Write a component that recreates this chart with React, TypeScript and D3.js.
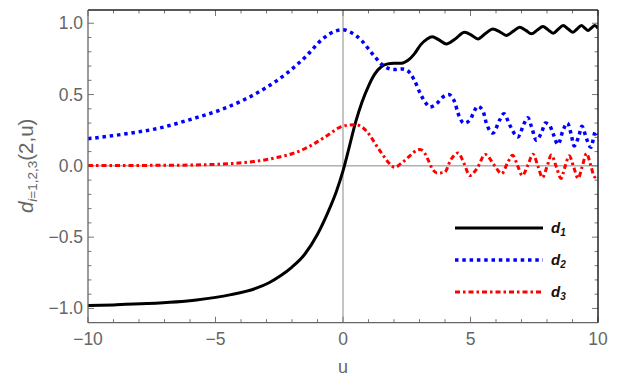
import React from 'react'
import * as d3 from 'd3'

// values: [u, d(2,u)]
const d1Points: [number, number][] = [
  [-10, -0.98], [-9, -0.975], [-7.7, -0.966], [-5.75, -0.94], [-4.44, -0.905], [-3.4, -0.858],
  [-2.9, -0.82], [-2.48, -0.775], [-2.0, -0.71], [-1.5, -0.62], [-1.0, -0.48], [-0.6, -0.33],
  [-0.26, -0.18], [0, -0.035],
  [0.2, 0.1], [0.5, 0.31], [0.75, 0.45], [1.0, 0.56], [1.25, 0.645], [1.5, 0.695], [1.75, 0.715],
  [2.0, 0.72], [2.3, 0.72], [2.55, 0.74], [2.8, 0.785], [3.05, 0.85], [3.3, 0.89], [3.5, 0.905],
  [3.75, 0.885], [4.05, 0.855], [4.4, 0.89], [4.77, 0.937], [5.05, 0.915], [5.29, 0.89], [5.6, 0.93],
  [5.88, 0.96], [6.15, 0.94], [6.41, 0.915], [6.68, 0.945], [6.93, 0.972], [7.17, 0.95], [7.39, 0.926],
  [7.62, 0.952], [7.84, 0.977], [8.04, 0.955], [8.24, 0.93], [8.44, 0.958], [8.63, 0.984], [8.83, 0.96],
  [9.02, 0.937], [9.18, 0.96], [9.35, 0.984], [9.48, 0.967], [9.61, 0.95], [9.74, 0.967], [9.87, 0.984],
  [10, 0.965],
]

const d2Points: [number, number][] = [
  [-10, 0.19], [-8.5, 0.225], [-7.2, 0.265], [-5.9, 0.33], [-4.84, 0.39], [-3.92, 0.46], [-3.0, 0.55],
  [-2.2, 0.65], [-1.44, 0.77], [-0.8, 0.89], [-0.3, 0.945], [0, 0.955], [0.26, 0.94], [0.5, 0.915],
  [0.75, 0.875], [1.0, 0.82], [1.25, 0.765], [1.5, 0.715], [1.75, 0.685], [2.0, 0.675], [2.3, 0.68],
  [2.55, 0.665], [2.8, 0.6], [3.05, 0.5], [3.25, 0.44], [3.4, 0.413], [3.67, 0.436], [3.92, 0.483],
  [4.14, 0.5], [4.38, 0.448], [4.51, 0.37], [4.75, 0.3], [5.0, 0.325], [5.1, 0.366], [5.29, 0.417],
  [5.49, 0.385], [5.62, 0.3], [5.88, 0.23], [6.14, 0.32], [6.31, 0.366], [6.54, 0.285], [6.86, 0.203],
  [7.1, 0.296], [7.25, 0.338], [7.4, 0.27], [7.58, 0.18], [7.8, 0.24], [7.94, 0.3], [8.1, 0.285],
  [8.24, 0.226], [8.43, 0.15], [8.63, 0.25], [8.8, 0.3], [8.95, 0.22], [9.06, 0.14], [9.25, 0.21],
  [9.37, 0.278], [9.55, 0.19], [9.72, 0.13], [9.9, 0.24], [10, 0.22],
]

const d3Points: [number, number][] = [
  [-10, 0.002], [-7, 0.004], [-5.9, 0.006], [-4.5, 0.015], [-3.5, 0.03], [-2.6, 0.058], [-2.0, 0.085],
  [-1.5, 0.12], [-1.18, 0.15], [-0.6, 0.215], [-0.13, 0.27], [0.2, 0.285], [0.5, 0.288], [0.8, 0.265],
  [1.05, 0.215], [1.3, 0.145], [1.57, 0.075], [1.8, 0.02], [2.03, -0.01], [2.3, 0.02], [2.62, 0.07],
  [2.9, 0.11], [3.03, 0.115], [3.2, 0.09], [3.33, 0.045], [3.5, -0.02], [3.7, -0.05], [3.99, -0.045],
  [4.22, 0.04], [4.51, 0.09], [4.75, 0.016], [4.97, -0.068], [5.25, -0.02], [5.58, 0.08], [5.95, 0.0],
  [6.22, -0.055], [6.45, 0.02], [6.65, 0.075], [6.85, 0.0], [7.03, -0.068], [7.25, 0.005], [7.45, 0.082],
  [7.65, -0.005], [7.82, -0.082], [8.0, -0.005], [8.17, 0.076], [8.37, -0.01], [8.55, -0.088],
  [8.7, -0.01], [8.87, 0.07], [9.05, -0.01], [9.22, -0.088], [9.38, -0.005], [9.55, 0.087], [9.72, 0.0],
  [9.87, -0.078], [10, -0.06],
]

const xTickLabels = [-10, -5, 0, 5, 10]
const yTickLabels = [-1.0, -0.5, 0.0, 0.5, 1.0]
const legendNames = ['1', '2', '3']

const W = 628
const H = 389
const left = 88
const right = 598
const top = 10
const bottom = 322.7

const font = '"Liberation Sans", Arial, sans-serif'
const labelGray = '#666'

const series = [
  { pts: d1Points, color: '#000', width: 3, dash: undefined },
  { pts: d2Points, color: '#0000ff', width: 3.5, dash: '3.5 3.8' },
  { pts: d3Points, color: '#ff0000', width: 3, dash: '5 3 2.5 3' },
]

const App = () => {
  const x = d3.scaleLinear().domain([-10, 10]).range([left, right])
  const y = d3.scaleLinear().domain([-1.1, 1.093]).range([bottom, top])

  const line = d3.line<[number, number]>()
    .x(d => x(d[0]))
    .y(d => y(d[1]))
    .curve(d3.curveMonotoneX)

  const xMinor = d3.range(-10, 10.001, 1)
  const yMinor = d3.range(-1.0, 1.0001, 0.1)
  const fmt = d3.format('.1f')

  return (
    <svg width={W} height={H} style={{ position: 'absolute', left: 0, top: 0, background: '#fff' }}
      fontFamily={font}>
      <defs>
        <clipPath id="plotclip">
          <rect x={left} y={top} width={right - left} height={bottom - top} />
        </clipPath>
      </defs>

      {/* zero axes */}
      <line x1={x(0)} x2={x(0)} y1={top} y2={bottom} stroke="#8a8a8a" strokeWidth={1} />
      <line x1={left} x2={right} y1={y(0)} y2={y(0)} stroke="#8a8a8a" strokeWidth={1} />

      {/* ticks, pointing inward on all four sides */}
      <g stroke="#777" strokeWidth={1}>
        {xMinor.map(v => {
          const major = Math.round(v) % 5 === 0
          const len = major ? 6 : 3.5
          return (
            <g key={'xt' + v}>
              <line x1={x(v)} x2={x(v)} y1={bottom} y2={bottom - len} />
              <line x1={x(v)} x2={x(v)} y1={top} y2={top + len} />
            </g>
          )
        })}
        {yMinor.map(v => {
          const r = Math.round(v * 10)
          const major = r % 5 === 0
          const len = major ? 6 : 3.5
          return (
            <g key={'yt' + r}>
              <line x1={left} x2={left + len} y1={y(v)} y2={y(v)} />
              <line x1={right} x2={right - len} y1={y(v)} y2={y(v)} />
            </g>
          )
        })}
      </g>

      {/* curves */}
      <g clipPath="url(#plotclip)" fill="none">
        {series.map((s, i) => (
          <path key={i} d={line(s.pts) || ''} stroke={s.color} strokeWidth={s.width}
            strokeDasharray={s.dash} strokeLinejoin="round" />
        ))}
      </g>

      {/* frame */}
      <line x1={left} x2={right} y1={top} y2={top} stroke="#222" strokeWidth={1.5} />
      <line x1={right} x2={right} y1={top} y2={bottom} stroke="#222" strokeWidth={1.5} />
      <line x1={left} x2={left} y1={top} y2={bottom} stroke="#666" strokeWidth={1.3} />
      <line x1={left} x2={right} y1={bottom} y2={bottom} stroke="#666" strokeWidth={1.3} />

      {/* tick labels */}
      <g fill={labelGray} fontSize={17.5}>
        {xTickLabels.map(v => (
          <text key={'xl' + v} x={x(v)} y={bottom + 22} textAnchor="middle">
            {v < 0 ? '\u2212' + Math.abs(v) : String(v)}
          </text>
        ))}
        {yTickLabels.map(v => (
          <text key={'yl' + v} x={left - 5} y={y(v) + 6} textAnchor="end">
            {fmt(v)}
          </text>
        ))}
      </g>

      {/* axis titles */}
      <text x={x(0)} y={373} textAnchor="middle" fill={labelGray} fontSize={18}>u</text>
      <text transform={`translate(33,${y(0)}) rotate(-90)`} textAnchor="middle" fill={labelGray} fontSize={20.5}>
        <tspan fontStyle="italic">d</tspan>
        <tspan fontSize={13.5} dy={4}><tspan fontStyle="italic">i</tspan>=1,2,3</tspan>
        <tspan dy={-4}>(2,u)</tspan>
      </text>

      {/* legend */}
      {series.map((s, i) => {
        const ly = 228 + i * 32
        return (
          <g key={'lg' + i}>
            <line x1={455} x2={543} y1={ly} y2={ly} stroke={s.color} strokeWidth={s.width}
              strokeDasharray={s.dash} />
            <text x={551} y={ly + 5} fill="#111" fontSize={15} fontWeight="bold" fontStyle="italic">
              d<tspan fontSize={10} dy={3}>{legendNames[i]}</tspan>
            </text>
          </g>
        )
      })}
    </svg>
  )
}

export default App
